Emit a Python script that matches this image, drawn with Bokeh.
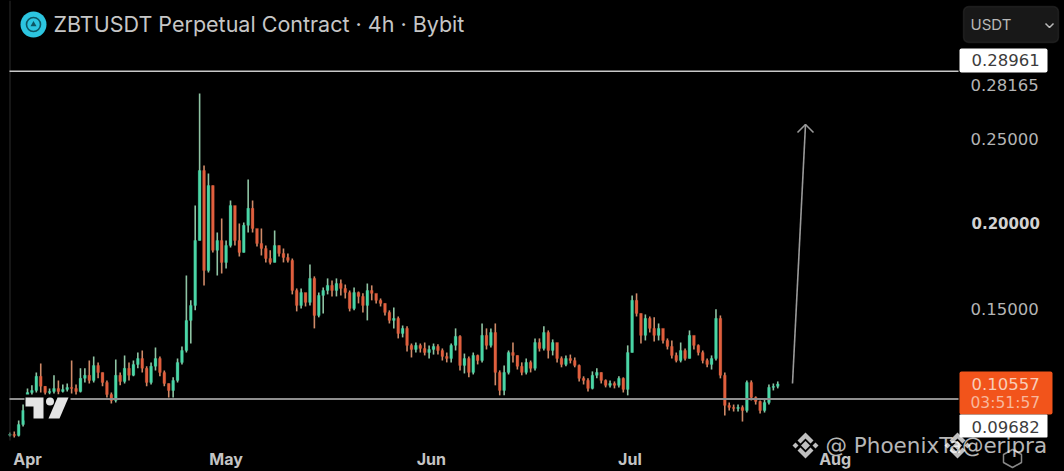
from bokeh.embed import file_html
from bokeh.resources import INLINE
from bokeh.plotting import figure
from bokeh.models import (Range1d, LinearAxis, FixedTicker, NumeralTickFormatter, Label,
                          BoxAnnotation, PolyAnnotation, ColumnDataSource)
import numpy as np

TITLE = "ZBTUSDT Perpetual Contract · 4h · Bybit"
MONTHS = ["Apr", "May", "Jun", "Jul", "Aug"]
MONTH_DATES = ["2025-04-01", "2025-05-01", "2025-06-01", "2025-07-01", "2025-08-01"]
PRICE_TICKS = [0.15, 0.25, 0.28165]
BOLD_TICK = 0.20
UPPER_LEVEL = 0.28961
LOWER_LEVEL = 0.09682
LAST_PRICE = 0.10557
COUNTDOWN = "03:51:57"
FIRST_CANDLE = "2025-03-29T08:00"
FIRST_OPEN = 0.0755
CANDLE_HOURS = 16

closes = [.0759,.0753,.0817,.0900,.1006,.1018,.1101,.1042,.1006,.1012,.1030,.1012,.1024,.1036,.1030,.1012,.1089,.1107,.1077,.1165,
.1124,.1065,.0994,.0959,.1107,.1071,.1148,.1107,.1171,.1206,.1148,.1065,.1160,.1206,.1124,.1059,.1018,.1077,.1183,.1253,
.1430,.1518,.1900,.2312,.1724,.2223,.1842,.1900,.1771,.1871,.2106,.1900,.1830,.1989,.2089,.1971,.1883,.1853,.1794,.1771,
.1871,.1824,.1800,.1783,.1606,.1518,.1594,.1536,.1677,.1459,.1577,.1606,.1636,.1606,.1647,.1618,.1594,.1500,.1594,.1571,
.1518,.1606,.1589,.1548,.1530,.1477,.1430,.1442,.1353,.1383,.1283,.1259,.1283,.1265,.1241,.1259,.1277,.1253,.1218,.1206,
.1283,.1336,.1165,.1206,.1124,.1224,.1194,.1342,.1283,.1359,.1124,.1018,.1124,.1241,.1224,.1160,.1124,.1183,.1148,.1300,
.1265,.1359,.1253,.1300,.1206,.1171,.1206,.1194,.1165,.1089,.1077,.1030,.1107,.1124,.1077,.1048,.1059,.1048,.1089,.1024,
.1241,.1548,.1471,.1342,.1442,.1383,.1342,.1383,.1312,.1277,.1224,.1194,.1253,.1206,.1342,.1283,.1241,.1194,.1171,.1206,
.1442,.1107,.0930,.0918,.0912,.0918,.0900,.1065,.0977,.0953,.0900,.0947,.1036,.1042,.1056]

highs = [.0771,.0777,.0841,.0935,.1030,.1048,.1124,.1177,.1042,.1030,.1107,.1077,.1053,.1059,.1194,.1053,.1148,.1148,.1194,.1218,
.1183,.1124,.1077,.1006,.1200,.1124,.1224,.1183,.1194,.1241,.1253,.1160,.1183,.1271,.1218,.1136,.1059,.1095,.1206,.1277,
.1694,.1548,.2106,.2765,.2341,.2294,.2223,.1947,.2030,.1900,.2136,.2077,.2000,.2006,.2259,.2136,.1941,.1971,.1871,.1842,
.1959,.1871,.1853,.1824,.1794,.1618,.1618,.1577,.1759,.1689,.1594,.1624,.1677,.1665,.1677,.1671,.1641,.1606,.1624,.1600,
.1589,.1647,.1636,.1577,.1559,.1530,.1489,.1506,.1453,.1400,.1395,.1294,.1300,.1294,.1300,.1283,.1294,.1289,.1265,.1241,
.1294,.1383,.1342,.1235,.1218,.1241,.1229,.1412,.1383,.1383,.1412,.1136,.1165,.1253,.1300,.1224,.1183,.1206,.1194,.1324,
.1324,.1395,.1371,.1318,.1277,.1218,.1224,.1229,.1212,.1171,.1101,.1089,.1130,.1148,.1124,.1083,.1077,.1071,.1101,.1095,
.1283,.1577,.1589,.1471,.1465,.1453,.1448,.1412,.1371,.1324,.1312,.1241,.1300,.1265,.1371,.1336,.1289,.1253,.1206,.1224,
.1495,.1459,.1124,.0947,.0935,.0935,.0930,.1077,.1077,.0983,.0959,.0965,.1053,.1059,.1071]

lows = [.0747,.0741,.0747,.0806,.0900,.0983,.1006,.1006,.0989,.0994,.1000,.0994,.1006,.1012,.1000,.0994,.1006,.1065,.1059,.1065,
.1089,.1042,.0977,.0941,.0947,.1048,.1059,.1077,.1101,.1148,.1124,.1042,.1053,.1136,.1101,.1042,.0977,.0977,.1065,.1171,
.1241,.1294,.1489,.1900,.1636,.1712,.1830,.1694,.1706,.1736,.1859,.1871,.1806,.1830,.1947,.1947,.1865,.1812,.1771,.1759,
.1771,.1806,.1771,.1771,.1583,.1483,.1500,.1512,.1518,.1383,.1448,.1471,.1583,.1571,.1571,.1577,.1559,.1483,.1489,.1530,
.1477,.1430,.1548,.1530,.1512,.1459,.1412,.1383,.1324,.1330,.1247,.1212,.1241,.1241,.1224,.1206,.1229,.1229,.1194,.1183,
.1183,.1253,.1136,.1118,.1095,.1112,.1171,.1183,.1259,.1271,.1048,.0989,.0989,.1112,.1183,.1141,.1107,.1112,.1124,.1136,
.1247,.1253,.1206,.1224,.1183,.1154,.1160,.1177,.1154,.1071,.1053,.1012,.1024,.1089,.1059,.1036,.1036,.1030,.1036,.1006,
.0989,.1241,.1453,.1294,.1312,.1359,.1306,.1312,.1294,.1259,.1206,.1183,.1183,.1194,.1206,.1259,.1224,.1177,.1154,.1141,
.1194,.1089,.0871,.0900,.0894,.0894,.0835,.0888,.0959,.0935,.0882,.0888,.0935,.1018,.1030]

# ---- geometry: the frame fills the page; px helpers position the non-data furniture
W, H = 1064, 471
PLOT_LEFT, PLOT_RIGHT, PLOT_BOTTOM = 9, 958, 440
PX_PER_DAY = 6.62
PX_PER_PRICE = 1700.0
DAY_MS = 86400000.0
APR_PX, BOLD_PX = 27.0, 223.0

month_ms = [int(np.datetime64(d, "ms").astype("int64")) for d in MONTH_DATES]
def X(px):
    return month_ms[0] + (px - APR_PX) / PX_PER_DAY * DAY_MS
def Y(py):
    return BOLD_TICK + (BOLD_PX - py) / PX_PER_PRICE

p = figure(width=W, height=H, output_backend="svg", toolbar_location=None,
           x_range=Range1d(X(0), X(W)), y_range=Range1d(Y(H), Y(0)),
           x_axis_location=None, y_axis_location=None,
           background_fill_color="#000000", border_fill_color="#000000",
           min_border=0, outline_line_color=None)
p.grid.visible = False

xa = LinearAxis(ticker=FixedTicker(ticks=month_ms), fixed_location=Y(PLOT_BOTTOM),
                major_label_overrides={m: t for m, t in zip(month_ms, MONTHS)},
                axis_line_color=None, major_tick_line_color=None, minor_tick_line_color=None,
                major_label_text_color="#c4c4c4", major_label_text_font="Inter",
                major_label_text_font_style="bold", major_label_text_font_size="16px",
                major_label_standoff=2)
p.add_layout(xa, "below")

ya = LinearAxis(ticker=FixedTicker(ticks=PRICE_TICKS), formatter=NumeralTickFormatter(format="0.00000"),
                fixed_location=X(PLOT_RIGHT),
                axis_line_color=None, major_tick_line_color=None, minor_tick_line_color=None,
                major_label_text_color="#b4b4b4", major_label_text_font="DejaVu Sans",
                major_label_text_font_size="16.5px", major_label_standoff=6)
p.add_layout(ya, "right")

# candles
n = min(len(closes), len(highs), len(lows))
t0 = np.datetime64(FIRST_CANDLE, "ms").astype("int64")
step = CANDLE_HOURS * 3600000.0
xs = [float(t0) + i * step for i in range(n)]
opens = [FIRST_OPEN] + closes[:n - 1]
UP, DOWN = "#4ad6a6", "#e05f3e"
UP_W, DOWN_W = "#8fc4a4", "#cf8a68"
cols = [UP if c >= o else DOWN for o, c in zip(opens, closes)]
wicks = [UP_W if c >= o else DOWN_W for o, c in zip(opens, closes)]
src = ColumnDataSource(dict(x=xs, o=opens, c=closes[:n], h=highs[:n], l=lows[:n], col=cols, wick=wicks))
p.segment("x", "h", "x", "l", source=src, line_color="wick", line_width=1.6)
p.vbar("x", step * 0.62, "o", "c", source=src, fill_color="col", line_color="col", line_width=0.3)

# level lines and the drawn arrow
p.line([X(9.5), X(9.5)], [Y(0), Y(PLOT_BOTTOM)], line_color="#2c2c2c", line_width=1)
p.line([X(PLOT_LEFT), X(PLOT_RIGHT)], [UPPER_LEVEL, UPPER_LEVEL], line_color="#c9c9c9", line_width=1.5)
p.line([X(PLOT_LEFT), X(PLOT_RIGHT)], [LOWER_LEVEL, LOWER_LEVEL], line_color="#8f8f8f", line_width=2)
p.line([X(792), X(805)], [Y(383), Y(124)], line_color="#9a9a9a", line_width=1.6)
p.line([X(797), X(805), X(813)], [Y(132), Y(124), Y(132)], line_color="#9a9a9a", line_width=1.6)

def box(l, r, t, b, color, line=None, radius=0):
    p.add_layout(BoxAnnotation(left=X(l), right=X(r), top=Y(t), bottom=Y(b), fill_color=color, fill_alpha=1,
                               line_color=line, line_width=1.5, border_radius=radius))
def label(px, py, text, color="#b4b4b4", size=16.5, align="left", style="normal", font="DejaVu Sans", alpha=1.0):
    p.add_layout(Label(x=X(px), y=Y(py), text=text, text_color=color, text_font_size=f"{size}px",
                       text_align=align, text_baseline="middle", text_font=font,
                       text_font_style=style, text_alpha=alpha))
def poly(pts, fill=None, line=None, fa=1.0, la=1.0, lw=1.0):
    p.add_layout(PolyAnnotation(xs=[X(a) for a, _ in pts], ys=[Y(b) for _, b in pts], fill_color=fill,
                                fill_alpha=fa if fill else 0, line_color=line, line_alpha=la, line_width=lw))

# TradingView mark
box(24, 70, 394, 420, "#000000")
LOGO = "#e4e4e4"
poly([(25, 397), (43, 397), (43, 418), (33, 418), (33, 406), (25, 406)], LOGO)
poly([(57, 397), (68, 397), (59, 418), (48, 418)], LOGO)
p.scatter([X(49.5)], [Y(401)], size=8, marker="circle", fill_color=LOGO, line_color=None, level="overlay")

# title
p.scatter([X(33)], [Y(24)], size=26, marker="circle", fill_color="#2cc5e0", line_color=None, level="overlay")
p.scatter([X(33)], [Y(24)], size=14, marker="circle", fill_color=None, line_color="#0d5563", line_width=1.6, level="overlay")
p.scatter([X(33)], [Y(24)], size=6, marker="triangle", fill_color="#0d5563", line_color=None, level="overlay")
label(53, 23.5, TITLE, color="#c6c6c6", size=21.5, font="Inter")

# currency selector
box(963, 1058, 6, 42, "#181818", line="#454545", radius=5)
label(970, 24, "USDT", color="#b8b8b8", size=15, font="Inter")
poly([(1045, 23), (1049, 27), (1053, 23), (1049, 27)], line="#bbbbbb", lw=1.5)

# price tags
box(959, 1047, 48, 72, "#ffffff", radius=2)
label(971, 59, f"{UPPER_LEVEL:.5f}", color="#3c3c3c")
label(971, 222, f"{BOLD_TICK:.5f}", color="#d2d2d2", size=15, style="bold")
box(959, 1052, 371, 414, "#f2541b", radius=2)
label(971, 383, f"{LAST_PRICE:.5f}", color="#f8cdb8")
label(970, 402.5, COUNTDOWN, color="#f8b79c", size=15.5)
box(959, 1047, 414, 437, "#ffffff", radius=1)
label(971, 426, f"{LOWER_LEVEL:.5f}", color="#3c3c3c")

# small chart-settings icon and watermark
poly([(1012, 449), (1021, 454), (1021, 462), (1012, 467), (1003, 462), (1003, 454)], line="#888888", lw=1.5)
WM = "#ffffff"
def binance(cx, cy):
    for pts in ([(-4.5, 0), (0, -4.5), (4.5, 0), (0, 4.5)], [(-13, 0), (-10, -3), (-7, 0), (-10, 3)], [(7, 0), (10, -3), (13, 0), (10, 3)],
                [(-8, -5), (0, -13), (8, -5), (5, -2), (0, -7), (-5, -2)], [(-8, 5), (0, 13), (8, 5), (5, 2), (0, 7), (-5, 2)]):
        poly([(cx + a, cy + b) for a, b in pts], WM, fa=0.75)
binance(805, 445)
binance(957, 445)
label(825, 445, "@ PhoenixTa@eripra", color=WM, size=21.5, alpha=0.72, font="DejaVu Sans")

html = file_html(p, INLINE)
html = html.replace("<head>", "<head><style>html,body{margin:0;padding:0;background:#000;overflow:hidden}</style>", 1)
open("out.html", "w").write(html)
